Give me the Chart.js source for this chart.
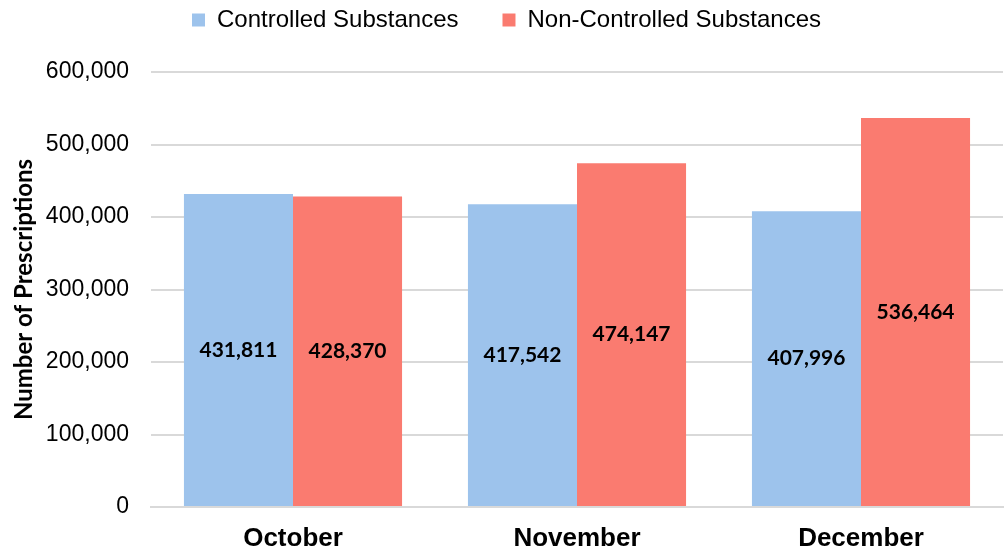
<!DOCTYPE html>
<html>
<head>
<meta charset="utf-8">
<script src="https://cdn.jsdelivr.net/npm/chart.js@4/dist/chart.umd.min.js"></script>
<style>
  html, body { margin: 0; padding: 0; background: #fff; }
  #wrap { width: 1008px; height: 552px; }
</style>
</head>
<body>
<div id="wrap"><canvas id="rxChart" width="1008" height="552"></canvas></div>
<script>
'use strict'

// data
const months = ['October', 'November', 'December'];
const controlled = [431811, 417542, 407996];
const nonControlled = [428370, 474147, 536464];
const seriesNames = ['Controlled Substances', 'Non-Controlled Substances'];

//draw value in the middle of each bar
const barLabels = {
  id: 'barLabels',
  afterDatasetsDraw(chart) {
    const ctx = chart.ctx;
    ctx.save();
    ctx.font = 'bold 21px Lato';
    ctx.fillStyle = '#000';
    ctx.textAlign = 'center';
    ctx.textBaseline = 'middle';
    chart.data.datasets.forEach(function(ds, i) {
      const meta = chart.getDatasetMeta(i);
      meta.data.forEach(function(bar, j) {
        const v = ds.data[j];
        ctx.fillText(v.toLocaleString('en-US'), bar.x, (bar.y + bar.base) / 2);
      });
    });
    ctx.restore();
  }
};

//legend: fixed height, items pulled up (padding is big for the gap between items)
const legendFix = {
  id: 'legendFix',
  beforeInit(chart) {
    const fit = chart.legend.fit;
    chart.legend.fit = function() {
      fit.call(this);
      this.height = 72;
    };
    const draw = chart.legend.draw;
    chart.legend.draw = function() {
      this.ctx.save();
      this.ctx.translate(5, -36);
      draw.call(this);
      this.ctx.restore();
    };
  }
};

const ctx = document.getElementById('rxChart').getContext('2d');
const rxChart = new Chart(ctx, {
  type: 'bar',
  data: {
    labels: months,
    datasets: [
      {
        label: seriesNames[0],
        data: controlled,
        backgroundColor: '#9DC3EC',
        categoryPercentage: 0.768,
        barPercentage: 1
      },
      {
        label: seriesNames[1],
        data: nonControlled,
        backgroundColor: '#FA7B70',
        categoryPercentage: 0.768,
        barPercentage: 1
      }
    ]
  },
  options: {
    responsive: false,
    animation: false,
    layout: { padding: { left: 0, right: 5, top: 0, bottom: 0 } },
    plugins: {
      tooltip: { enabled: false },
      legend: {
        position: 'top',
        labels: {
          boxWidth: 13,
          boxHeight: 13,
          padding: 44,
          color: '#000',
          font: { family: 'Liberation Sans', size: 24 }
        }
      }
    },
    scales: {
      x: {
        grid: { display: false, drawTicks: false },
        border: { color: '#d9d9d9', width: 2 },
        ticks: {
          color: '#000',
          padding: 16,
          font: { family: 'Liberation Sans', size: 26, weight: 'bold' }
        },
        afterFit(scale) { scale.height = 45; }
      },
      y: {
        min: 0,
        max: 600000,
        grid: { color: '#d9d9d9', lineWidth: 2, drawTicks: false },
        border: { display: false },
        ticks: {
          stepSize: 100000,
          color: '#000',
          padding: 22,
          font: { family: 'Liberation Sans', size: 23 },
          callback: function(v) { return v.toLocaleString('en-US'); }
        },
        title: {
          display: true,
          text: 'Number of Prescriptions',
          color: '#000',
          padding: { top: 10, bottom: 0 },
          font: { family: 'Lato', size: 24, weight: 'bold' }
        },
        afterFit(scale) { scale.width = 151; }
      }
    }
  },
  plugins: [barLabels, legendFix]
});
</script>
</body>
</html>
